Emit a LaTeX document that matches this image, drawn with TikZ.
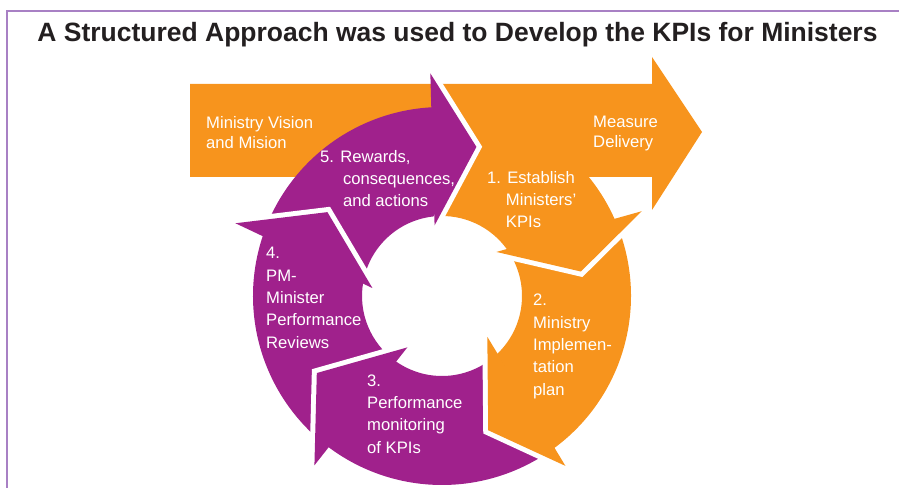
\documentclass[tikz,border=0pt]{standalone}
\usepackage{fontspec}
\setmainfont{Liberation Sans}

\definecolor{kpiOrange}{RGB}{247,148,29}
\definecolor{kpiPurple}{RGB}{160,33,140}
\definecolor{kpiFrame}{RGB}{168,128,196}
\definecolor{kpiTitle}{RGB}{35,31,32}

\tikzset{
  lbl/.style={text=white, font=\fontsize{14.2}{19}\selectfont, align=left, inner sep=0pt, anchor=base west},
  boxlbl/.style={lbl, font=\fontsize{14.2}{17.9}\selectfont},
  headgap/.style={draw=white, line width=0.3cm, line join=miter},
}

\begin{document}
\begin{tikzpicture}[x=0.03cm, y=-0.03cm]
  \useasboundingbox (0,0) rectangle (899,488);

  % -- Frame --
  \draw[kpiFrame, line width=1.3pt] (7,488) -- (7,11) -- (899,11);

  % -- Title --
  \node[anchor=base, inner sep=0pt, text=kpiTitle, font=\fontsize{22.6}{27}\selectfont\bfseries] (title) at (457.5,42)
    {A Structured Approach was used to Develop the KPIs for Ministers};

  % -- Big arrow: vision to delivery --
  \fill[kpiOrange] (190,84) -- (652,84) -- (652,57) -- (702,132) -- (652,210) -- (652,177) -- (190,177) -- cycle;

  % -- Cycle ring --
  \begin{scope}[shift={(442,296)}, yscale=-1]
    % -- Bands --
    \fill[kpiOrange] (92.75:189) arc[start angle=92.75, end angle=23.6, radius=189] -- (35.4:80) arc[start angle=35.4, end angle=95, radius=80] -- cycle;
    \fill[kpiOrange] (23.6:189) arc[start angle=23.6, end angle=-54, radius=189] -- (-46.6:80) arc[start angle=-46.6, end angle=35.4, radius=80] -- cycle;
    \fill[kpiPurple] (-54:189) arc[start angle=-54, end angle=-127.4, radius=189] -- (-125.5:80) arc[start angle=-125.5, end angle=-46.6, radius=80] -- cycle;
    \fill[kpiPurple] (-127.4:189) arc[start angle=-127.4, end angle=-199, radius=189] -- (-189.5:80) arc[start angle=-189.5, end angle=-125.5, radius=80] -- cycle;
    \fill[kpiPurple] (161:189) arc[start angle=161, end angle=92.75, radius=189] -- (95:80) arc[start angle=95, end angle=170.5, radius=80] -- cycle;

    % -- Heads 1 and 2 --
    \draw[headgap] (23:217) -- (10:141) -- (39:70);
    \fill[kpiOrange] (23:217) -- (10:141) -- (39:70) -- cycle;
    \draw[headgap] (-54:210) -- (-71:142) -- (-42:61);
    \fill[kpiOrange] (-54:210) -- (-71:142) -- (-42:61) -- cycle;

    % -- Heads 3, 4 and 5 --
    \draw[headgap] (233:212) -- (211.6:147) -- (236:62);
    \fill[kpiPurple] (233:212) -- (211.6:147) -- (236:62) -- cycle;
    \draw[headgap] (160.6:219) -- (143.8:142) -- (173.5:70);
    \fill[kpiPurple] (160.6:219) -- (143.8:142) -- (173.5:70) -- cycle;
    \draw[headgap] (93:223) -- (77:153) -- (96:71);
    \fill[kpiPurple] (93:223) -- (77:153) -- (96:71) -- cycle;
  \end{scope}

  % -- Arrow texts (placed at last baseline) --
  \node[boxlbl] (vision) at (206,149) {Ministry Vision\\and Mision};
  \node[boxlbl] (delivery) at (593,148) {Measure\\Delivery};

  % -- Step texts --
  \node[lbl] (stepfive) at (320,207) {5. Rewards,\\\hspace*{19.5pt}consequences,\\\hspace*{19.5pt}and actions};
  \node[lbl] (stepone) at (487,228) {1. Establish\\\hspace*{16pt}Ministers’\\\hspace*{16pt}KPIs};
  \node[lbl] (steptwo) at (533,395) {2.\\Ministry\\Implemen-\\tation\\plan};
  \node[lbl] (stepthree) at (367,453) {3.\\Performance\\monitoring\\of KPIs};
  \node[lbl] (stepfour) at (266,348) {4.\\PM-\\Minister\\Performance\\Reviews};
\end{tikzpicture}
\end{document}
